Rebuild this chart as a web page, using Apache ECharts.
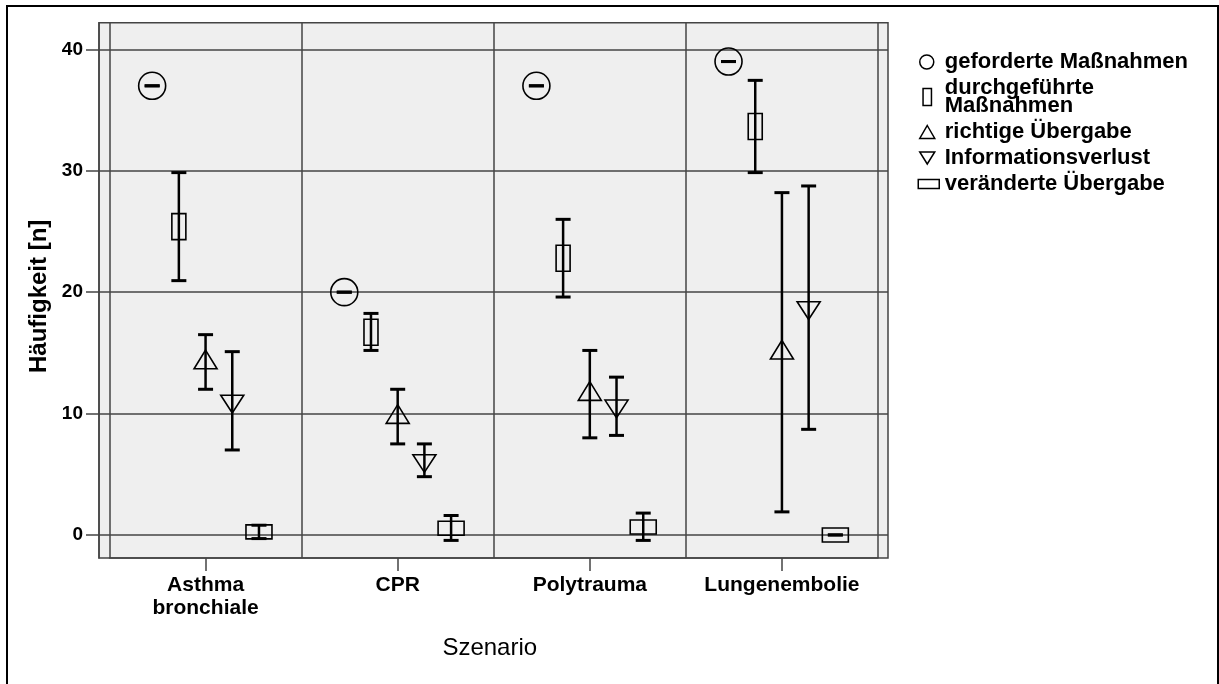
<!DOCTYPE html>
<html><head><meta charset="utf-8">
<script src="https://cdn.jsdelivr.net/npm/echarts@6/dist/echarts.min.js"></script>
<style>html,body{margin:0;padding:0;background:#fff}#c{width:1219px;height:684px}</style>
</head><body><div id="c"></div>
<script>
// ---- data ----
const categories = ['Asthma\nbronchiale', 'CPR', 'Polytrauma', 'Lungenembolie'];
const seriesNames = ['geforderte Maßnahmen', 'durchgeführte\nMaßnahmen', 'richtige Übergabe', 'Informationsverlust', 'veränderte Übergabe'];
const yTicks = [0, 10, 20, 30, 40];

const gefordertMean = [37, 20, 37, 39];
const gefordertLow  = [37, 20, 37, 39];
const gefordertHigh = [37, 20, 37, 39];

const durchgefuehrtMean = [25.4, 16.7, 22.8, 33.65];
const durchgefuehrtLow  = [20.95, 15.2, 19.6, 29.85];
const durchgefuehrtHigh = [29.85, 18.25, 26.0, 37.45];

const richtigMean = [14.2, 9.7, 11.6, 15.0];
const richtigLow  = [12.0, 7.5, 8.0, 1.9];
const richtigHigh = [16.5, 12.0, 15.2, 28.2];

const verlustMean = [11.0, 6.1, 10.6, 18.7];
const verlustLow  = [7.0, 4.8, 8.2, 8.7];
const verlustHigh = [15.1, 7.5, 13.0, 28.75];

const veraendertMean = [0.25, 0.55, 0.65, 0];
const veraendertLow  = [-0.3, -0.45, -0.45, 0];
const veraendertHigh = [0.8, 1.6, 1.8, 0];

const seriesMeans = [gefordertMean, durchgefuehrtMean, richtigMean, verlustMean, veraendertMean];
const seriesLows  = [gefordertLow, durchgefuehrtLow, richtigLow, verlustLow, veraendertLow];
const seriesHighs = [gefordertHigh, durchgefuehrtHigh, richtigHigh, verlustHigh, veraendertHigh];

// ---- style ----
const FONT = 'Liberation Sans, Arial, sans-serif';
const GRID_COLOR = '#444';
const SLOT = 0.139; // fraction of band between neighbouring series
const MARKERS = ['circle', 'tallRect', 'triUp', 'triDown', 'wideRect'];
const legendIcons = [
  'path://M0 0M22 17M16 8.5A7 7 0 1 1 2 8.5A7 7 0 1 1 16 8.5Z',
  'path://M0 0M22 17M5.3 0L13.7 0L13.7 17L5.3 17Z',
  'path://M0 0M22 17M9.5 2L17 15L2 15Z',
  'path://M0 0M22 17M2 2.5L17 2.5L9.5 14.5Z',
  'path://M0 0M22 17M0.5 4L21.5 4L21.5 13L0.5 13Z'
];

function markerShape(kind, cx, cy) {
  const st = { fill: 'none', stroke: '#000', lineWidth: 1.6 };
  switch (kind) {
    case 'circle': return { type: 'circle', shape: { cx, cy, r: 13.5 }, style: st };
    case 'tallRect': return { type: 'rect', shape: { x: cx - 7, y: cy - 13, width: 14, height: 26 }, style: st };
    case 'triUp': return { type: 'polygon', shape: { points: [[cx, cy - 12.5], [cx + 11.5, cy + 6.2], [cx - 11.5, cy + 6.2]] }, style: st };
    case 'triDown': return { type: 'polygon', shape: { points: [[cx - 11.5, cy - 6.2], [cx + 11.5, cy - 6.2], [cx, cy + 11.5]] }, style: st };
    default: return { type: 'rect', shape: { x: cx - 13, y: cy - 7, width: 26, height: 14 }, style: st };
  }
}

function renderErrorItem(params, api) {
  const ci = api.value(0);
  const m = api.coord([ci, api.value(1)]);
  const lo = api.coord([ci, api.value(2)]);
  const hi = api.coord([ci, api.value(3)]);
  const band = api.size([1, 0])[0];
  const x = m[0] + (params.seriesIndex - 2) * band * SLOT;
  const bar = { stroke: '#000', lineWidth: 2.5 };
  const cap = { stroke: '#000', lineWidth: 3 };
  return {
    type: 'group',
    children: [
      { type: 'line', shape: { x1: x, y1: lo[1], x2: x, y2: hi[1] }, style: bar },
      { type: 'line', shape: { x1: x - 7.5, y1: lo[1], x2: x + 7.5, y2: lo[1] }, style: cap },
      { type: 'line', shape: { x1: x - 7.5, y1: hi[1], x2: x + 7.5, y2: hi[1] }, style: cap },
      markerShape(MARKERS[params.seriesIndex], x, m[1])
    ]
  };
}

const chart = echarts.init(document.getElementById('c'), null, { renderer: 'canvas' });
const lineStyle = { color: GRID_COLOR, width: 1.5 };

chart.setOption({
  animation: false,
  backgroundColor: '#fff',
  graphic: [{
    type: 'rect', shape: { x: 7, y: 6, width: 1211, height: 720 },
    style: { fill: 'none', stroke: '#000', lineWidth: 2 }, silent: true, z: -10
  }],
  grid: [
    { left: 99, right: 331, top: 22.7, bottom: 126, show: true, backgroundColor: '#EFEFEF', borderColor: GRID_COLOR, borderWidth: 1.5 },
    { left: 109.5, right: 341, top: 22.7, bottom: 126 }
  ],
  xAxis: [
    { gridIndex: 0, type: 'value', show: false, min: 0, max: 1 },
    {
      gridIndex: 1, type: 'category', data: categories, position: 'bottom',
      axisLine: { show: true, onZero: false, lineStyle },
      axisTick: { show: true, inside: false, alignWithLabel: true, length: 13, lineStyle },
      axisLabel: { interval: 0, fontFamily: FONT, fontSize: 21, fontWeight: 'bold', color: '#000', margin: 16, lineHeight: 23 },
      splitLine: { show: true, lineStyle },
      name: 'Szenario', nameLocation: 'middle', nameGap: 78,
      nameTextStyle: { fontFamily: FONT, fontSize: 24, color: '#000', padding: [0, 8, 0, 0] }
    }
  ],
  yAxis: [
    {
      gridIndex: 0, type: 'value', min: -1.9, max: 42.2, position: 'left',
      axisLine: { show: true, onZero: false, lineStyle },
      axisTick: { show: true, inside: false, length: 13, lineStyle, customValues: yTicks },
      axisLabel: { fontFamily: FONT, fontSize: 19, fontWeight: 'bold', color: '#000', margin: 16, customValues: yTicks },
      splitLine: { show: true, lineStyle },
      name: 'Häufigkeit [n]', nameLocation: 'middle', nameGap: 43,
      nameTextStyle: { fontFamily: FONT, fontSize: 24, fontWeight: 'bold', color: '#000', padding: [0, 12, 0, 0] }
    },
    { gridIndex: 1, type: 'value', min: -1.9, max: 42.2, show: false }
  ],
  legend: {
    orient: 'vertical', left: 917, top: 51, padding: 0, itemGap: 4,
    itemWidth: 22, itemHeight: 17, selectedMode: false,
    textStyle: { fontFamily: FONT, fontSize: 22, fontWeight: 'bold', color: '#000', lineHeight: 18 },
    data: seriesNames.map((n, i) => ({
      name: n, icon: legendIcons[i],
      itemStyle: { color: 'rgba(0,0,0,0)', borderColor: '#000', borderWidth: 1.5 }
    }))
  },
  series: seriesNames.map((n, s) => ({
    name: n, type: 'custom', xAxisIndex: 1, yAxisIndex: 1,
    color: '#000',
    encode: { x: 0, y: 1 },
    renderItem: renderErrorItem,
    data: categories.map((c, i) => [i, seriesMeans[s][i], seriesLows[s][i], seriesHighs[s][i]])
  }))
});
</script>
</body></html>
